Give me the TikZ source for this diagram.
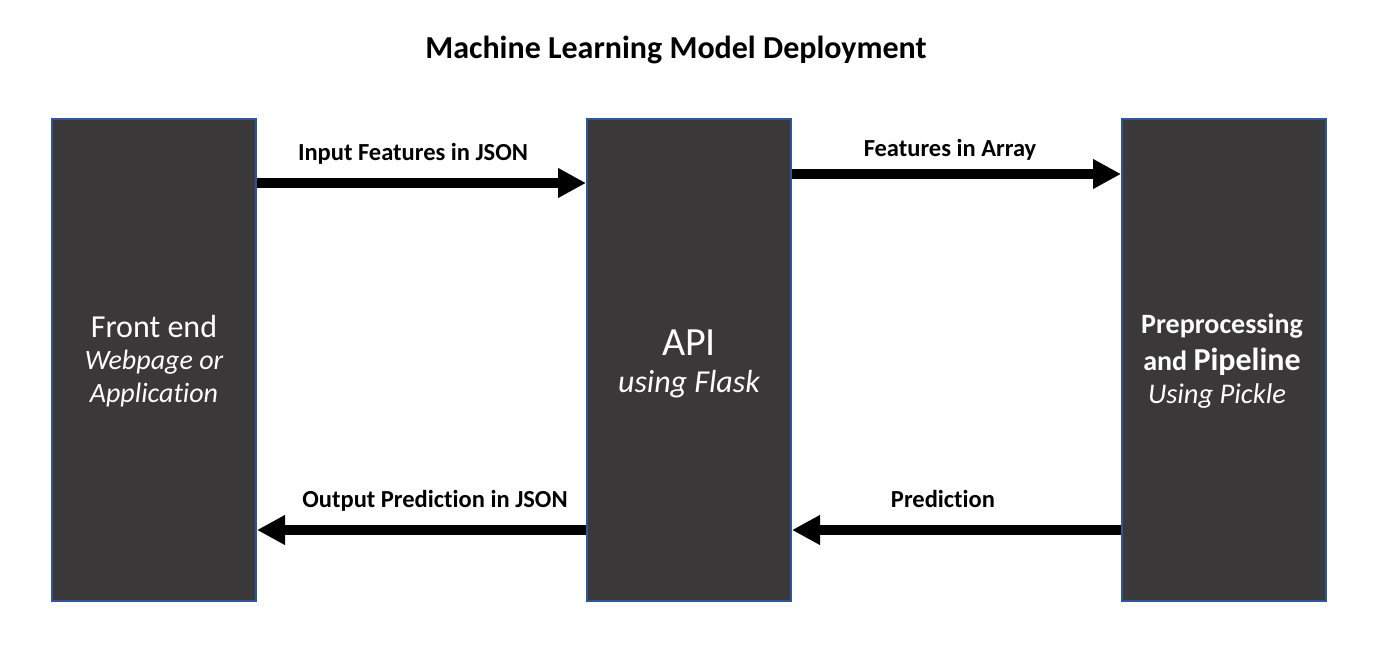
\documentclass[tikz,border=0pt]{standalone}
\usepackage{fontspec}
\setmainfont{Carlito}[Ligatures=NoCommon]
\usetikzlibrary{arrows.meta}
\definecolor{boxfill}{HTML}{3A3838}
\definecolor{boxline}{HTML}{2F5597}
\tikzset{
  box/.style={draw=boxline, line width=2pt, fill=boxfill, minimum width=204pt, minimum height=482pt, inner sep=0pt},
  intext/.style={text=white, inner sep=0pt, anchor=base},
  arr/.style={line width=10pt, -{Triangle[length=28pt,width=28pt]}},
  lbl/.style={font=\bfseries\fontsize{24.5}{28}\selectfont, inner sep=0pt, anchor=base},
}
\begin{document}
\begin{tikzpicture}[x=1pt,y=-1pt]
\useasboundingbox (0,0) rectangle (1383,654);
\node[font=\bfseries\fontsize{32}{36}\selectfont, inner sep=0pt, anchor=base] (title) at (676,58) {Machine Learning Model Deployment};
% boxes
\node[box] (fe) at (154,360) {};
\node[box] (api) at (689,360) {};
\node[box] (pp) at (1224,360) {};
% box texts
\node[intext, font=\fontsize{32}{36}\selectfont] (fe1) at (154,337) {Front end};
\node[intext, font=\itshape\fontsize{28}{32}\selectfont] (fe2) at (154,369) {Webpage or};
\node[intext, font=\itshape\fontsize{28}{32}\selectfont] (fe3) at (154,402) {Application};
\node[intext, font=\fontsize{40}{44}\selectfont] (api1) at (689,355) {API};
\node[intext, font=\itshape\fontsize{32}{36}\selectfont] (api2) at (689,392) {using Flask};
\node[intext, font=\bfseries\fontsize{28}{32}\selectfont] (pp1) at (1222,333) {Preprocessing};
\node[intext, font=\bfseries\fontsize{28}{32}\selectfont] (pp2) at (1222,370) {and {\fontsize{32}{36}\selectfont Pipeline}};
\node[intext, font=\itshape\fontsize{28.5}{32}\selectfont] (pp3) at (1217,403) {Using Pickle};
% connectors
\draw[arr] (fe.east |- 0,183) -- (api.west |- 0,183);
\draw[arr] (api.east |- 0,174) -- (pp.west |- 0,174);
\draw[arr] (api.west |- 0,530) -- (fe.east |- 0,530);
\draw[arr] (pp.west |- 0,530) -- (api.east |- 0,530);
% labels
\node[lbl] (l1) at (413,160) {Input Features in JSON};
\node[lbl] (l2) at (950,156) {Features in Array};
\node[lbl] (l3) at (435,507) {Output Prediction in JSON};
\node[lbl] (l4) at (943,507) {Prediction};
\end{tikzpicture}
\end{document}
